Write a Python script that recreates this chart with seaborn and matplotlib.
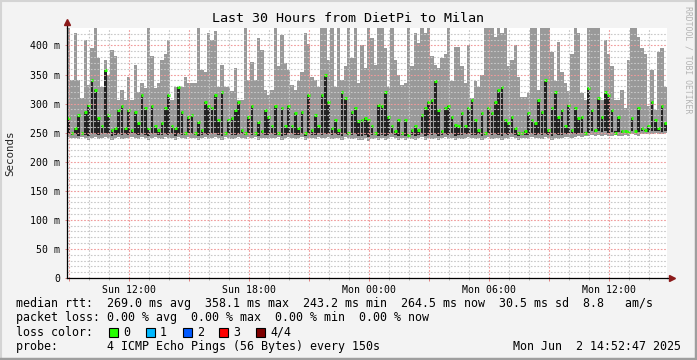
import numpy as np
import pandas as pd
import matplotlib
matplotlib.use("Agg")
import matplotlib.pyplot as plt
import seaborn as sns
from matplotlib.lines import Line2D
from matplotlib.patches import Rectangle

# ---------------- data ----------------
TITLE = "Last 30 Hours from DietPi to Milan"
START = "2025-06-01 08:52:47"
STEP_MIN = 10

ping_max = [
    435, 340, 421, 340, 309, 409, 332, 395, 435, 378, 329, 375, 349, 392, 381, 306, 323, 306, 346, 306,
    366, 320, 335, 326, 435, 381, 326, 335, 375, 386, 409, 306, 329, 298, 329, 346, 335, 335, 335, 435,
    358, 355, 421, 409, 424, 329, 366, 329, 329, 321, 361, 306, 306, 435, 340, 372, 340, 412, 392, 323,
    315, 323, 435, 364, 418, 369, 358, 332, 323, 338, 355, 421, 403, 346, 340, 329, 435, 435, 375, 435,
    329, 435, 340, 364, 435, 378,
    435, 335, 401, 361, 435, 412, 366, 435, 435, 395, 329, 435, 375, 349, 332, 335, 435, 364, 421, 404,
    435, 421, 435, 381, 366, 361, 378, 386, 435, 338, 398, 398, 364, 335, 401, 309, 338, 329, 349, 435,
    435, 435, 415, 435, 421, 435, 364, 375, 401, 346, 312, 312, 318, 435, 435, 323, 435, 435, 435, 389,
    338, 406, 355, 335, 321, 386, 435, 421, 318, 306, 435, 435, 435, 435, 306, 409, 386, 364, 306, 306,
    323, 292, 375, 435, 435, 415, 395, 386, 295, 358, 289, 389, 395, 329,
]

ping_min = [
    242, 240, 241, 239, 243, 240, 238, 241, 242, 239, 240, 243, 241, 238, 240, 242, 239, 241, 240, 243,
    241, 239, 242, 240, 238, 241, 243, 240, 239, 242, 240, 241, 238, 242, 240, 239, 243, 241, 240, 238,
    240, 242, 239, 241, 243, 240, 238, 242, 241, 239, 240, 242, 241, 239, 243, 240, 242, 238, 241, 240,
    239, 241, 240, 242, 238, 240, 243, 241, 239, 240, 242, 238, 241, 240, 239, 243, 240, 241, 242, 239,
    241, 240, 238, 242, 240, 239, 241, 237, 238, 240, 236, 239, 241, 238, 240, 237, 239, 242, 240, 238,
    240, 238, 241, 239, 237, 240, 242, 238, 240, 239, 241, 238, 240, 242, 239, 241, 238, 240, 239, 241,
    242, 240, 239, 241, 238, 240, 242, 239, 241, 240, 238, 241, 239, 242, 240, 238, 241, 240, 239, 242,
    240, 241, 239, 242, 240, 238, 241, 239, 240, 242, 243, 241, 242, 244, 243, 245, 244, 246, 245, 246,
    245, 246, 244, 245, 246, 245, 244, 246, 245, 247, 246, 245, 248, 248, 248, 248, 249, 248, 248, 249,
]

ping_q1 = [
    248, 246, 247, 245, 249, 246, 245, 247, 248, 246, 247, 249, 247, 245, 246, 248, 246, 247, 246, 249,
    247, 246, 248, 246, 245, 247, 249, 246, 246, 248, 246, 247, 245, 248, 246, 246, 249, 247, 246, 245,
    246, 248, 246, 247, 249, 246, 245, 248, 247, 246, 246, 248, 247, 246, 249, 246, 248, 245, 247, 246,
    246, 247, 246, 248, 245, 246, 249, 247, 246, 246, 248, 245, 247, 246, 246, 249, 246, 247, 248, 246,
    247, 246, 245, 248, 246, 246, 247, 244, 245, 246, 243, 246, 247, 245, 246, 244, 246, 248, 246, 245,
    246, 245, 247, 246, 244, 246, 248, 245, 246, 246, 247, 245, 246, 248, 246, 247, 245, 246, 246, 247,
    248, 246, 246, 247, 245, 246, 248, 246, 247, 246, 245, 247, 246, 248, 246, 245, 247, 246, 246, 248,
    246, 247, 246, 248, 246, 245, 247, 246, 246, 248, 249, 247, 248, 250, 249, 251, 250, 252, 251, 252,
    251, 252, 250, 251, 252, 251, 250, 252, 251, 253, 252, 251, 253, 252, 251, 252, 253, 252, 251, 252,
]

median_rtt = [
    275, 249, 258, 280, 249, 286, 297, 341, 323, 275, 261, 358, 280, 255, 258, 289, 295, 258, 289, 255,
    286, 266, 315, 292, 258, 295, 261, 255, 266, 292, 314, 261, 258, 328, 286, 249, 277, 280, 249, 269,
    255, 303, 295, 292, 314,
    272, 320, 249, 272, 275, 289, 303, 255, 249, 277, 295, 249, 269, 252, 289, 277, 261, 295, 249, 292,
    261, 295, 261, 283, 258, 286, 249, 314, 255, 280, 261, 314, 349, 303, 258, 272, 255, 320, 310, 249,
    286, 292, 270,
    272, 275, 272, 261, 249, 298, 295, 320, 277, 261, 252, 272, 249, 272, 246, 255, 261, 255, 280, 292,
    303, 306, 338, 289, 252, 292, 295, 277, 263, 261, 283, 261, 292, 306, 272, 255, 283, 249, 292, 283,
    303, 323, 329, 272,
    266, 277, 258, 249, 249, 252, 283, 272, 266, 306, 286, 341, 255, 292, 320, 277, 289, 261, 298, 255,
    292, 275, 277, 249, 326, 289, 255, 309, 277, 320, 315, 289, 249, 277, 252, 252, 251, 275, 253, 292,
    258, 255, 261, 303, 272, 258, 295, 266,
]

tick_times = ["2025-06-01 12:00", "2025-06-01 18:00", "2025-06-02 00:00",
              "2025-06-02 06:00", "2025-06-02 12:00"]
tick_labels = ["Sun 12:00", "Sun 18:00", "Mon 00:00", "Mon 06:00", "Mon 12:00"]
y_ticks = [0, 50, 100, 150, 200, 250, 300, 350, 400]
y_tick_labels = ["0", "50 m", "100 m", "150 m", "200 m", "250 m", "300 m", "350 m", "400 m"]
Y_MAX = 430

line_rtt = "median rtt:  269.0 ms avg  358.1 ms max  243.2 ms min  264.5 ms now  30.5 ms sd  8.8   am/s"
line_loss = "packet loss: 0.00 % avg  0.00 % max  0.00 % min  0.00 % now"
line_probe = "probe:       4 ICMP Echo Pings (56 Bytes) every 150s"
stamp = "Mon Jun  2 14:52:47 2025"
loss_labels = ["0", "1", "2", "3", "4/4"]
loss_colors = ["#26ff00", "#00b8ff", "#0059ff", "#ff0000", "#7e0000"]

# ---------------- build frame ----------------
t0 = pd.Timestamp(START)
n = len(ping_max)
times = t0 + pd.to_timedelta(np.arange(n) * STEP_MIN, unit="min")
df = pd.DataFrame({
    "hours": (times - t0) / pd.Timedelta(hours=1),
    "lo": ping_min, "hi": ping_max, "q1": ping_q1, "med": median_rtt,
})
w = STEP_MIN / 60.0
dw = 0.75 * w

sns.set_theme(style="white")
plt.rcParams["font.family"] = ["DejaVu Sans Mono", "DejaVu Sans"]

W, H = 697, 360
fig = plt.figure(figsize=(W / 100, H / 100), dpi=100, facecolor="#f3f3f3")

def fx(p):
    return p / W

def fy(p):
    return 1 - p / H

ax = fig.add_axes([fx(67), fy(278), 600 / W, 250 / H])
ax.set_facecolor("white")

ax.bar(df["hours"], df["hi"] - df["lo"], bottom=df["lo"], width=w, align="edge",
       color="#999999", linewidth=0, zorder=1)
ax.bar(df["hours"] + w / 2, df["med"] - df["q1"], bottom=df["q1"], width=dw, align="center",
       color="#222222", linewidth=0, zorder=1.2)
ax.hlines(df["med"], df["hours"] + (w - dw) / 2, df["hours"] + (w + dw) / 2,
          color="#26ff00", linewidth=2.2, zorder=1.5)

ax.set_xlim(0, 30)
ax.set_ylim(0, Y_MAX)

hr = lambda t: (pd.Timestamp(t) - t0) / pd.Timedelta(hours=1)
minor_x = [hr(t) for t in pd.date_range("2025-06-01 09:00", "2025-06-02 14:00", freq="h")]
major_x = [hr(t) for t in pd.date_range("2025-06-01 09:00", "2025-06-02 14:00", freq="3h")]
lab_map = {round(hr(t), 4): l for t, l in zip(tick_times, tick_labels)}
ax.set_xticks(minor_x, minor=True)
ax.set_xticks(major_x)
ax.set_xticklabels([lab_map.get(round(v, 4), "") for v in major_x])
ax.set_yticks(y_ticks)
ax.set_yticklabels(y_tick_labels)
ax.set_yticks(np.arange(10, Y_MAX, 10), minor=True)

ax.set_axisbelow(False)
ax.grid(which="minor", color="#c8c8c8", linestyle=(0, (1.5, 1.5)), linewidth=0.8)
ax.grid(which="major", color="#f09a9a", linestyle=(0, (1.5, 1.5)), linewidth=0.8)

ax.tick_params(axis="x", which="major", length=2.5, width=0.7, color="#e08080", pad=2.5,
               labelsize=7.1, labelcolor="black", bottom=True)
ax.tick_params(axis="x", which="minor", length=1.5, width=0.7, color="#b0b0b0", bottom=True)
ax.tick_params(axis="y", which="major", length=1.5, width=0.7, color="#e08080", pad=3.5,
               labelsize=7.1, labelcolor="black", left=True)
ax.tick_params(axis="y", which="minor", length=0)

for s in ["top", "right"]:
    ax.spines[s].set_visible(False)
for s in ["left", "bottom"]:
    ax.spines[s].set_color("black")
    ax.spines[s].set_linewidth(0.9)
    ax.spines[s].set_zorder(3)

# axis arrows (rrdtool style)
ax.plot([0, 0], [1, 1.024], transform=ax.transAxes, color="black", lw=0.9, clip_on=False, zorder=3)
ax.plot([1, 1.009], [0, 0], transform=ax.transAxes, color="black", lw=0.9, clip_on=False, zorder=3)
ax.plot([0], [1.024], marker="^", ms=4.5, color="#8b1a1a", transform=ax.transAxes, clip_on=False, zorder=4)
ax.plot([1.009], [0], marker=">", ms=4.5, color="#8b1a1a", transform=ax.transAxes, clip_on=False, zorder=4)

ax.set_ylabel("Seconds", fontsize=7.8)
ax.yaxis.set_label_coords(-0.095, 0.5)
ax.yaxis.label.set_horizontalalignment("center")
ax.yaxis.label.set_verticalalignment("center")
ax.yaxis.label.set_rotation_mode("anchor")

# title and watermark
fig.text(0.5, fy(19), TITLE, ha="center", va="center", fontsize=9.6, color="black")
fig.text(fx(688), fy(60), "RRDTOOL / TOBI OETIKER", rotation=270, ha="center", va="center",
         fontsize=5.9, color="#b4b4b4")

# legend lines
FS = 8.4
fig.text(fx(16), fy(303), line_rtt, ha="left", va="center", fontsize=FS, color="black")
fig.text(fx(16), fy(318), line_loss, ha="left", va="center", fontsize=FS, color="black")
fig.text(fx(16), fy(332), "loss color:", ha="left", va="center", fontsize=FS, color="black")
fig.text(fx(16), fy(346.5), line_probe, ha="left", va="center", fontsize=FS, color="black")
fig.text(fx(681), fy(346.5), stamp, ha="right", va="center", fontsize=FS, color="black")

box_x = [108.5, 145.5, 182.5, 219, 256]
for bx, lab, col in zip(box_x, loss_labels, loss_colors):
    fig.add_artist(Rectangle((fx(bx), fy(336.5)), 9 / W, 9 / H, transform=fig.transFigure,
                             facecolor=col, edgecolor="black", linewidth=0.8))
    fig.text(fx(bx + 14.5), fy(332), lab, ha="left", va="center", fontsize=FS, color="black")

# outer 3D frame
fig.add_artist(Line2D([0, 1], [fy(1), fy(1)], transform=fig.transFigure, color="#d4d4d4", lw=1.5))
fig.add_artist(Line2D([fx(1), fx(1)], [0, 1], transform=fig.transFigure, color="#d4d4d4", lw=1.5))
fig.add_artist(Line2D([0, 1], [fy(358.5), fy(358.5)], transform=fig.transFigure, color="#9e9e9e", lw=2.5))
fig.add_artist(Line2D([fx(695.5), fx(695.5)], [0, 1], transform=fig.transFigure, color="#9e9e9e", lw=2.5))

fig.savefig("out.png", dpi=100, facecolor=fig.get_facecolor())
